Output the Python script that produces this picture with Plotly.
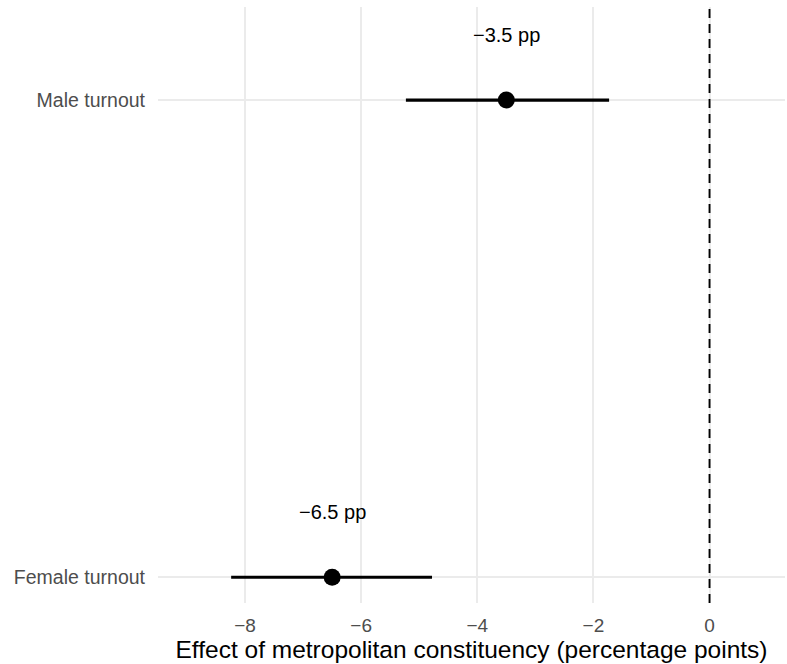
import plotly.graph_objects as go

# Estimates of the metropolitan-constituency effect, with confidence bounds
outcomes = ["Female turnout", "Male turnout"]
estimates = [-6.5, -3.5]
ci_low = [-8.24, -5.23]
ci_high = [-4.78, -1.73]
x_ticks = [-8, -6, -4, -2, 0]

FONT = "Liberation Sans, Arial, Helvetica, sans-serif"
ypos = list(range(1, len(outcomes) + 1))


def fmt(v):
    s = f"{v:g}"
    return s.replace("-", "\u2212")


fig = go.Figure()

# Confidence-interval segments
for y, lo, hi in zip(ypos, ci_low, ci_high):
    fig.add_trace(go.Scatter(
        x=[lo, hi], y=[y, y], mode="lines",
        line=dict(color="black", width=3.2),
        showlegend=False, hoverinfo="skip",
    ))

# Point estimates
fig.add_trace(go.Scatter(
    x=estimates, y=ypos, mode="markers",
    marker=dict(color="black", size=17),
    showlegend=False,
))

# Reference line at zero
fig.add_vline(x=0, line=dict(color="black", width=1.9, dash="9px,6px"))

# Value labels above each estimate
for y, est in zip(ypos, estimates):
    fig.add_annotation(
        x=est, y=y, yshift=65, text=f"{fmt(est)} pp", showarrow=False,
        font=dict(family=FONT, size=20, color="black"),
    )

fig.update_layout(
    width=787, height=664,
    margin=dict(l=158, r=2, t=7, b=61),
    plot_bgcolor="white", paper_bgcolor="white",
    font=dict(family=FONT),
)

fig.update_xaxes(
    range=[-9.5, 1.3],
    tickvals=x_ticks, ticktext=[fmt(v) for v in x_ticks],
    tickfont=dict(size=19, color="#4d4d4d"),
    showgrid=True, gridcolor="#ebebeb", gridwidth=1.8,
    zeroline=False, showline=False, ticks="",
    ticklabelstandoff=9,
    title=dict(text="Effect of metropolitan constituency (percentage points)",
               font=dict(size=24.5, color="black"), standoff=0),
)
fig.update_yaxes(
    range=[0.946, 2.195],
    tickvals=ypos, ticktext=outcomes,
    tickfont=dict(size=19.5, color="#4d4d4d"),
    showgrid=True, gridcolor="#ebebeb", gridwidth=1.8,
    zeroline=False, showline=False, ticks="",
    ticklabelstandoff=12,
)

fig.write_html("out.html")
